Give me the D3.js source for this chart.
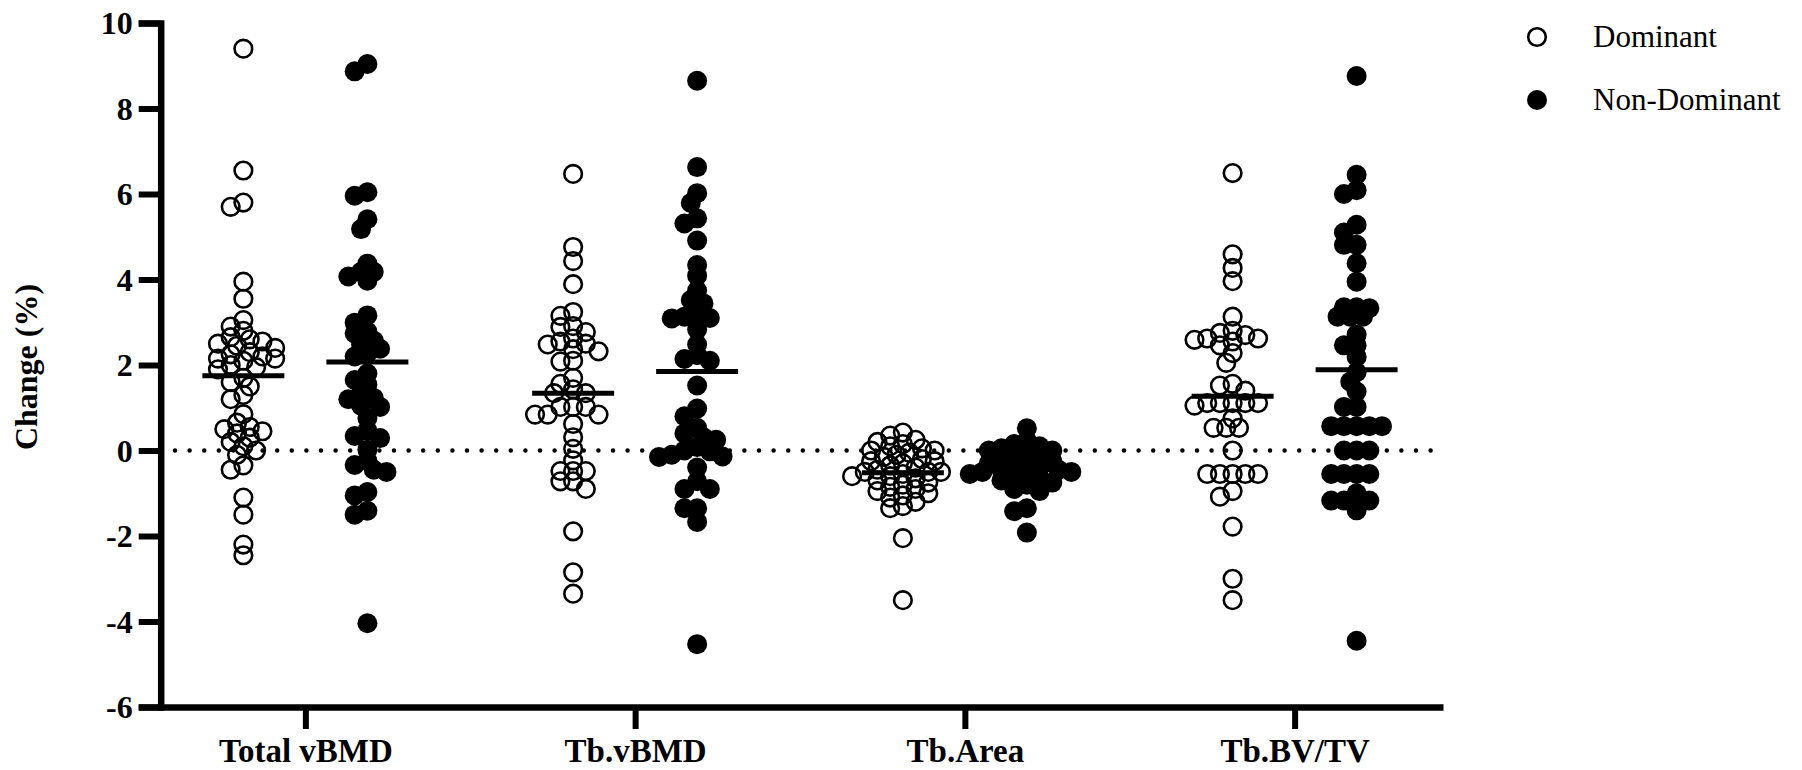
<!DOCTYPE html>
<html>
<head>
<meta charset="utf-8">
<script src="https://cdn.jsdelivr.net/npm/d3@7"></script>
<style>
  body { margin: 0; background: #fff; }
  svg text { font-family: "Liberation Serif", "Times New Roman", serif; }
</style>
</head>
<body>
<div id="chart"></div>
<script>
// values (percent change)
var categories = ["Total vBMD", "Tb.vBMD", "Tb.Area", "Tb.BV/TV"];
var seriesNames = ["Dominant", "Non-Dominant"];
var yTicks = [-6, -4, -2, 0, 2, 4, 6, 8, 10];

var dominantValues = [
    [9.4, 6.55, 5.8, 5.7, 3.95, 3.55, 3.05, 2.9, 2.8, 2.65, 2.6, 2.55, 2.5, 2.45, 2.4, 2.3, 2.25, 2.2, 2.15, 2.15,
     2.1, 2.0, 1.95, 1.9, 1.7, 1.6, 1.5, 1.3, 1.2, 0.85, 0.65, 0.55, 0.5, 0.45, 0.4, 0.3, 0.2, 0.1, 0.0, -0.1,
     -0.35, -0.45, -1.1, -1.5, -2.2, -2.45],
    [6.47, 4.76, 4.43, 3.89, 3.24, 3.15, 2.91, 2.89, 2.77, 2.62, 2.55, 2.5, 2.48, 2.37, 2.32, 2.1, 2.08, 1.7, 1.56, 1.43,
     1.34, 1.34, 1.02, 1.02, 1.02, 0.84, 0.84, 0.84, 0.62, 0.31, 0.04, -0.23, -0.48, -0.48, -0.48, -0.72, -0.72, -0.9,
     -1.89, -2.85, -3.35],
    [0.42, 0.35, 0.25, 0.2, 0.15, 0.1, 0.05, 0.0, 0.0, -0.05, -0.1, -0.15, -0.2, -0.25, -0.25, -0.3, -0.35, -0.4, -0.45,
     -0.5, -0.5, -0.5, -0.55, -0.6, -0.6, -0.65, -0.7, -0.75, -0.8, -0.85, -0.9, -0.95, -1.0, -1.05, -1.1, -1.2, -1.3,
     -1.35, -2.05, -3.5],
    [6.49, 4.59, 4.27, 3.96, 3.13, 2.8, 2.75, 2.7, 2.62, 2.62, 2.59, 2.55, 2.46, 2.28, 2.05, 1.56, 1.52, 1.4, 1.11, 1.11,
     1.11, 1.11, 1.11, 1.05, 0.75, 0.53, 0.53, 0.53, 0.0, -0.55, -0.55, -0.55, -0.55, -0.55, -0.95, -1.08, -1.78, -3.0, -3.5]
];

var nonDominantValues = [
    [9.04, 8.87, 6.04, 5.96, 5.41, 5.18, 4.37, 4.18, 4.18, 4.07, 3.97, 3.16, 2.99, 2.78, 2.74, 2.57, 2.48, 2.38, 2.27, 2.2,
     1.8, 1.65, 1.54, 1.33, 1.23, 1.2, 1.05, 1.02, 0.76, 0.47, 0.34, 0.29, 0.02, -0.24, -0.34, -0.45, -0.5, -0.97, -1.05,
     -1.41, -1.5, -4.04],
    [8.65, 6.63, 6.02, 5.79, 5.43, 5.31, 4.91, 4.34, 4.09, 3.74, 3.52, 3.44, 3.18, 3.13, 3.1, 3.09, 2.83, 2.48, 2.23, 2.14,
     2.1, 1.52, 0.98, 0.8, 0.53, 0.4, 0.31, 0.25, 0.08, 0.0, -0.02, -0.1, -0.14, -0.15, -0.4, -0.72, -0.9, -0.9, -1.35,
     -1.35, -1.67, -4.53],
    [0.52, 0.23, 0.15, 0.1, 0.05, 0.0, 0.0, -0.05, -0.1, -0.15, -0.2, -0.25, -0.3, -0.3, -0.35, -0.4, -0.45, -0.45, -0.5,
     -0.5, -0.55, -0.55, -0.6, -0.65, -0.7, -0.75, -0.8, -0.9, -0.95, -1.35, -1.42, -1.92],
    [8.76, 6.45, 6.09, 6.0, 5.28, 5.1, 4.81, 4.81, 4.38, 3.95, 3.35, 3.35, 3.33, 3.13, 3.13, 3.13, 2.71, 2.46, 2.46, 2.19,
     1.83, 1.61, 1.38, 1.02, 1.02, 0.57, 0.57, 0.57, 0.57, 0.57, 0.0, 0.0, 0.0, -0.55, -0.55, -0.55, -0.55, -1.0, -1.17,
     -1.17, -1.17, -1.4, -4.45]
];

var dominantMeans = [1.75, 1.34, -0.52, 1.27];
var nonDominantMeans = [2.07, 1.85, -0.45, 1.89];

var width = 1802;
var height = 770;

var svg = d3.select("#chart").append("svg")
    .attr("width", width)
    .attr("height", height);

var yScale = d3.scaleLinear()
    .domain([-6, 10])
    .range([707, 23]);

var xScale = d3.scalePoint()
    .domain(categories)
    .range([157, 1443])
    .padding(0.45);

var groupOffset = 62;
var dotRadius = 10;
var step = 12.7;
var minGap = 10;

// Prism-like column scatter: put each point at the nearest free slot beside the centre
function swarm(values) {
    var sorted = values.slice().sort((a, b) => b - a);
    var placed = [];
    sorted.forEach(function (v) {
        var y = yScale(v);
        for (var k = 0; k < 40; k++) {
            var off = (k % 2 === 0 ? 1 : -1) * Math.ceil(k / 2) * step / 2;
            var clash = placed.some(p => Math.hypot(p.dx - off, p.y - y) < minGap);
            if (!clash) {
                placed.push({ v: v, y: y, dx: off });
                break;
            }
        }
    });
    return placed;
}

// dotted zero line
svg.append("line")
    .attr("x1", 175)
    .attr("x2", 1440)
    .attr("y1", yScale(0))
    .attr("y2", yScale(0))
    .attr("stroke", "#000")
    .attr("stroke-width", 4.5)
    .attr("stroke-linecap", "round")
    .attr("stroke-dasharray", "0 14.6");

// axes
var yAxis = svg.append("g")
    .attr("transform", "translate(160.7,0)")
    .call(d3.axisLeft(yScale).tickValues(yTicks).tickFormat(d => String(d)).tickSize(22).tickPadding(6));

var xAxis = svg.append("g")
    .attr("transform", "translate(0,707)")
    .call(d3.axisBottom(xScale).tickSize(22).tickSizeOuter(0));

[yAxis, xAxis].forEach(function (ax) {
    ax.attr("font-family", null);
    ax.select(".domain").attr("stroke-width", 6.5);
    ax.selectAll(".tick line").attr("stroke-width", 6);
    ax.selectAll("text")
        .attr("fill", "#000")
        .style("font-size", "32px")
        .style("font-weight", "bold");
});
yAxis.selectAll("text").attr("dy", "0.34em");
xAxis.selectAll("text").attr("y", 55).attr("dy", null).style("font-size", "33px");

svg.append("text")
    .attr("transform", "translate(37,367) rotate(-90)")
    .attr("text-anchor", "middle")
    .style("font-size", "32px")
    .style("font-weight", "bold")
    .text("Change (%)");

// mean lines go under the dots
var plot = svg.append("g");

categories.forEach(function (cat, i) {
    var groups = [
        { values: dominantValues[i], mean: dominantMeans[i], cx: xScale(cat) - groupOffset, open: true },
        { values: nonDominantValues[i], mean: nonDominantMeans[i], cx: xScale(cat) + groupOffset, open: false }
    ];
    groups.forEach(function (g) {
        plot.append("line")
            .attr("x1", g.cx - 41)
            .attr("x2", g.cx + 41)
            .attr("y1", yScale(g.mean))
            .attr("y2", yScale(g.mean))
            .attr("stroke", "#000")
            .attr("stroke-width", 5);
    });
    groups.forEach(function (g) {
        plot.append("g").selectAll("circle")
            .data(swarm(g.values))
            .enter()
            .append("circle")
            .attr("cx", d => g.cx + d.dx)
            .attr("cy", d => d.y)
            .attr("r", g.open ? dotRadius - 1.2 : dotRadius)
            .attr("fill", g.open ? "none" : "#000")
            .attr("stroke", g.open ? "#000" : "none")
            .attr("stroke-width", 2.6);
    });
});

// legend
var legend = svg.append("g").attr("transform", "translate(1537,37)");
seriesNames.forEach(function (name, i) {
    var row = legend.append("g").attr("transform", `translate(0,${i * 63})`);
    row.append("circle")
        .attr("r", i === 0 ? dotRadius - 1.2 : dotRadius)
        .attr("fill", i === 0 ? "none" : "#000")
        .attr("stroke", i === 0 ? "#000" : "none")
        .attr("stroke-width", 2.6);
    row.append("text")
        .attr("x", 56)
        .attr("y", 10)
        .style("font-size", "31px")
        .text(name);
});
</script>
</body>
</html>
